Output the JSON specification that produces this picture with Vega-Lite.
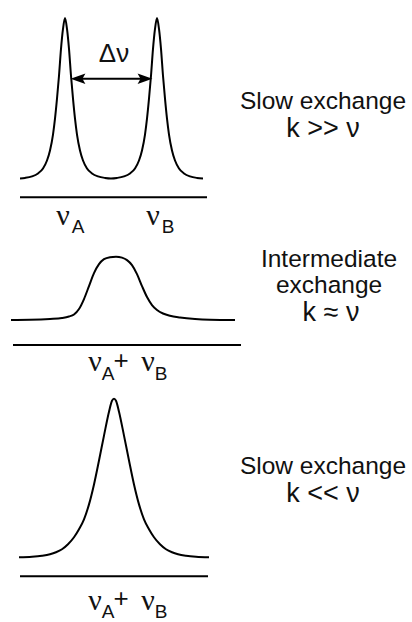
{
  "$schema": "https://vega.github.io/schema/vega-lite/v6.json",
  "width": 412,
  "height": 622,
  "autosize": {"type": "fit", "contains": "padding"},
  "padding": 0,
  "background": "white",
  "config": {"view": {"stroke": null}},
  "datasets": {
    "curves": [
      {"curve": "p1", "x": 20, "y": 179}, {"curve": "p1", "x": 25, "y": 178.5}, {"curve": "p1", "x": 32, "y": 177}, {"curve": "p1", "x": 38, "y": 174}, {"curve": "p1", "x": 43, "y": 169}, {"curve": "p1", "x": 47, "y": 161}, {"curve": "p1", "x": 50, "y": 151}, {"curve": "p1", "x": 53, "y": 135}, {"curve": "p1", "x": 55, "y": 119}, {"curve": "p1", "x": 57, "y": 99}, {"curve": "p1", "x": 59, "y": 76}, {"curve": "p1", "x": 61, "y": 49}, {"curve": "p1", "x": 63, "y": 29}, {"curve": "p1", "x": 65, "y": 18}, {"curve": "p1", "x": 67, "y": 29}, {"curve": "p1", "x": 69, "y": 49}, {"curve": "p1", "x": 71, "y": 76}, {"curve": "p1", "x": 73, "y": 99}, {"curve": "p1", "x": 75, "y": 119}, {"curve": "p1", "x": 77, "y": 135}, {"curve": "p1", "x": 80, "y": 151}, {"curve": "p1", "x": 83, "y": 161}, {"curve": "p1", "x": 87, "y": 169}, {"curve": "p1", "x": 92, "y": 174}, {"curve": "p1", "x": 98, "y": 177}, {"curve": "p1", "x": 105, "y": 178.5}, {"curve": "p1", "x": 111, "y": 179},
      {"curve": "p1", "x": 117, "y": 178.5}, {"curve": "p1", "x": 124, "y": 177}, {"curve": "p1", "x": 130, "y": 174}, {"curve": "p1", "x": 135, "y": 169}, {"curve": "p1", "x": 139, "y": 161}, {"curve": "p1", "x": 142, "y": 151}, {"curve": "p1", "x": 145, "y": 135}, {"curve": "p1", "x": 147, "y": 119}, {"curve": "p1", "x": 149, "y": 99}, {"curve": "p1", "x": 151, "y": 76}, {"curve": "p1", "x": 153, "y": 49}, {"curve": "p1", "x": 155, "y": 29}, {"curve": "p1", "x": 157, "y": 18}, {"curve": "p1", "x": 159, "y": 29}, {"curve": "p1", "x": 161, "y": 49}, {"curve": "p1", "x": 163, "y": 76}, {"curve": "p1", "x": 165, "y": 99}, {"curve": "p1", "x": 167, "y": 119}, {"curve": "p1", "x": 169, "y": 135}, {"curve": "p1", "x": 172, "y": 151}, {"curve": "p1", "x": 175, "y": 161}, {"curve": "p1", "x": 179, "y": 169}, {"curve": "p1", "x": 184, "y": 174}, {"curve": "p1", "x": 190, "y": 177}, {"curve": "p1", "x": 197, "y": 178.5}, {"curve": "p1", "x": 203, "y": 179},
      {"curve": "p2", "x": 11, "y": 321}, {"curve": "p2", "x": 30, "y": 320.8}, {"curve": "p2", "x": 50, "y": 320}, {"curve": "p2", "x": 62, "y": 319}, {"curve": "p2", "x": 69, "y": 317.5}, {"curve": "p2", "x": 74, "y": 315.5}, {"curve": "p2", "x": 79, "y": 310}, {"curve": "p2", "x": 84, "y": 300}, {"curve": "p2", "x": 89, "y": 287}, {"curve": "p2", "x": 94, "y": 274}, {"curve": "p2", "x": 99, "y": 265}, {"curve": "p2", "x": 104, "y": 260}, {"curve": "p2", "x": 110, "y": 258}, {"curve": "p2", "x": 116, "y": 257.5}, {"curve": "p2", "x": 122, "y": 258.5}, {"curve": "p2", "x": 127, "y": 261}, {"curve": "p2", "x": 132, "y": 266}, {"curve": "p2", "x": 137, "y": 275}, {"curve": "p2", "x": 142, "y": 287}, {"curve": "p2", "x": 147, "y": 298}, {"curve": "p2", "x": 152, "y": 306}, {"curve": "p2", "x": 157, "y": 311}, {"curve": "p2", "x": 163, "y": 314.5}, {"curve": "p2", "x": 170, "y": 316.8}, {"curve": "p2", "x": 180, "y": 318.5}, {"curve": "p2", "x": 195, "y": 320}, {"curve": "p2", "x": 210, "y": 320.7}, {"curve": "p2", "x": 235, "y": 321},
      {"curve": "p3", "x": 19, "y": 559}, {"curve": "p3", "x": 32, "y": 558.5}, {"curve": "p3", "x": 42, "y": 557.5}, {"curve": "p3", "x": 50, "y": 556}, {"curve": "p3", "x": 56, "y": 554}, {"curve": "p3", "x": 62, "y": 551}, {"curve": "p3", "x": 68, "y": 546}, {"curve": "p3", "x": 74, "y": 539}, {"curve": "p3", "x": 79, "y": 531}, {"curve": "p3", "x": 84, "y": 521}, {"curve": "p3", "x": 89, "y": 506}, {"curve": "p3", "x": 94, "y": 486}, {"curve": "p3", "x": 99, "y": 462}, {"curve": "p3", "x": 104, "y": 437}, {"curve": "p3", "x": 109, "y": 413}, {"curve": "p3", "x": 112, "y": 402}, {"curve": "p3", "x": 114, "y": 400}, {"curve": "p3", "x": 116, "y": 402}, {"curve": "p3", "x": 119, "y": 413}, {"curve": "p3", "x": 124, "y": 437}, {"curve": "p3", "x": 129, "y": 462}, {"curve": "p3", "x": 134, "y": 486}, {"curve": "p3", "x": 139, "y": 506}, {"curve": "p3", "x": 144, "y": 521}, {"curve": "p3", "x": 149, "y": 531}, {"curve": "p3", "x": 154, "y": 539}, {"curve": "p3", "x": 160, "y": 546}, {"curve": "p3", "x": 166, "y": 551}, {"curve": "p3", "x": 172, "y": 554}, {"curve": "p3", "x": 178, "y": 556}, {"curve": "p3", "x": 186, "y": 557.5}, {"curve": "p3", "x": 196, "y": 558.5}, {"curve": "p3", "x": 209, "y": 559}
    ],
    "axes": [
      {"x": 20, "x2": 207, "y": 198},
      {"x": 13, "x2": 241, "y": 346},
      {"x": 20, "x2": 208, "y": 578}
    ],
    "arrowLine": [{"x": 78, "x2": 145, "y": 79}],
    "arrowLeft": [{"x": 78, "y": 79}],
    "arrowRight": [{"x": 145, "y": 79}],
    "desc": [
      {"t": "Slow exchange", "x": 323, "y": 102},
      {"t": "Intermediate", "x": 329, "y": 261},
      {"t": "exchange", "x": 329, "y": 287},
      {"t": "Slow exchange", "x": 323, "y": 469}
    ],
    "klines": [
      {"t": "k >> ν", "x": 323, "y": 129},
      {"t": "k ≈ ν", "x": 331, "y": 314},
      {"t": "k << ν", "x": 323, "y": 496}
    ],
    "greek": [
      {"t": "ν", "x": 63, "y": 217},
      {"t": "ν", "x": 153, "y": 217},
      {"t": "ν", "x": 95, "y": 363},
      {"t": "ν", "x": 148, "y": 363},
      {"t": "ν", "x": 95, "y": 603},
      {"t": "ν", "x": 148, "y": 603}
    ],
    "sym": [
      {"t": "Δν", "x": 114, "y": 54},
      {"t": "+", "x": 121, "y": 362},
      {"t": "+", "x": 121, "y": 601}
    ],
    "sub": [
      {"t": "A", "x": 78, "y": 228},
      {"t": "B", "x": 168, "y": 228},
      {"t": "A", "x": 108, "y": 375},
      {"t": "B", "x": 161, "y": 375},
      {"t": "A", "x": 108, "y": 614},
      {"t": "B", "x": 161, "y": 614}
    ]
  },
  "encoding": {
    "x": {"field": "x", "type": "quantitative", "scale": {"domain": [0, 412], "nice": false, "zero": false}, "axis": null},
    "y": {"field": "y", "type": "quantitative", "scale": {"domain": [0, 622], "nice": false, "zero": false, "reverse": true}, "axis": null}
  },
  "layer": [
    {
      "data": {"name": "curves"},
      "mark": {"type": "line", "interpolate": "monotone", "color": "black", "strokeWidth": 2},
      "encoding": {"detail": {"field": "curve", "type": "nominal"}}
    },
    {
      "data": {"name": "axes"},
      "mark": {"type": "rule", "color": "black", "strokeWidth": 2},
      "encoding": {"x2": {"field": "x2"}}
    },
    {
      "data": {"name": "arrowLine"},
      "mark": {"type": "rule", "color": "black", "strokeWidth": 2},
      "encoding": {"x2": {"field": "x2"}}
    },
    {
      "data": {"name": "arrowLeft"},
      "mark": {"type": "point", "filled": true, "color": "black", "opacity": 1, "size": 220, "shape": "M-1,0L1,-0.7L0.6,0L1,0.7Z"},
      "encoding": {}
    },
    {
      "data": {"name": "arrowRight"},
      "mark": {"type": "point", "filled": true, "color": "black", "opacity": 1, "size": 220, "shape": "M1,0L-1,-0.7L-0.6,0L-1,0.7Z"},
      "encoding": {}
    },
    {
      "data": {"name": "desc"},
      "mark": {"type": "text", "font": "Liberation Sans", "fontSize": 24.5, "color": "#111", "align": "center", "baseline": "middle"},
      "encoding": {"text": {"field": "t"}}
    },
    {
      "data": {"name": "klines"},
      "mark": {"type": "text", "font": "Liberation Sans", "fontSize": 27, "color": "#111", "align": "center", "baseline": "middle"},
      "encoding": {"text": {"field": "t"}}
    },
    {
      "data": {"name": "greek"},
      "mark": {"type": "text", "font": "Liberation Serif", "fontSize": 30, "color": "#111", "align": "center", "baseline": "middle"},
      "encoding": {"text": {"field": "t"}}
    },
    {
      "data": {"name": "sym"},
      "mark": {"type": "text", "font": "Liberation Sans", "fontSize": 26, "color": "#111", "align": "center", "baseline": "middle"},
      "encoding": {"text": {"field": "t"}}
    },
    {
      "data": {"name": "sub"},
      "mark": {"type": "text", "font": "Liberation Sans", "fontSize": 19, "color": "#111", "align": "center", "baseline": "middle"},
      "encoding": {"text": {"field": "t"}}
    }
  ]
}
